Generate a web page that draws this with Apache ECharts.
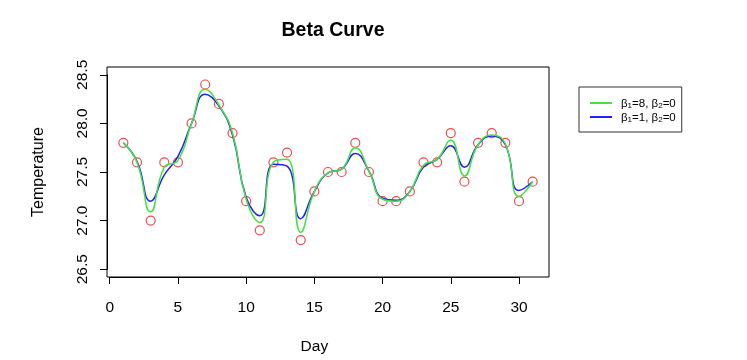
<!DOCTYPE html>
<html>
<head>
<meta charset="utf-8">
<script src="https://cdn.jsdelivr.net/npm/echarts@6/dist/echarts.min.js"></script>
<style>
  html, body { margin: 0; padding: 0; background: #fff; }
  #chart { width: 747px; height: 360px; }
</style>
</head>
<body>
<div id="chart"></div>
<script>
 // 观测数据 (Day 1..31)
 var days = [1,2,3,4,5,6,7,8,9,10,11,12,13,14,15,16,17,18,19,20,21,22,23,24,25,26,27,28,29,30,31];
 var observed = [27.8,27.6,27.0,27.6,27.6,28.0,28.4,28.2,27.9,27.2,26.9,27.6,27.7,26.8,27.3,27.5,
                 27.5,27.8,27.5,27.2,27.2,27.3,27.6,27.6,27.9,27.4,27.8,27.9,27.8,27.2,27.4];
 // 平滑曲线
 var curveB8 = [27.8,27.6,27.09,27.55,27.62,28.0,28.35,28.19,27.9,27.22,26.98,27.6,27.63,26.88,27.3,27.49,
                27.53,27.75,27.51,27.22,27.2,27.3,27.57,27.63,27.83,27.46,27.78,27.88,27.79,27.25,27.4];
 var curveB1 = [27.8,27.61,27.2,27.47,27.66,28.0,28.3,28.18,27.88,27.24,27.05,27.58,27.56,27.02,27.3,27.49,
                27.53,27.69,27.51,27.23,27.21,27.3,27.55,27.63,27.77,27.55,27.78,27.87,27.78,27.31,27.4];
 var seriesNames = ['β1=8, β2=0', 'β1=1, β2=0'];
 var xTicks = {min: 0, max: 30, interval: 5};
 var yTicks = {min: 26.5, max: 28.5, interval: 0.5};

 function pairs(ys) {
    return days.map(function (d, i) { return [d, ys[i]]; });
 }

 var chart = echarts.init(document.getElementById('chart'));
 var font = 'Liberation Sans, Arial, Helvetica, sans-serif';

 var option = {
     animation: false,
     backgroundColor: '#fff',
     title: {
         text: 'Beta Curve',
         left: 328, top: 16,
         textAlign: 'center',
         textStyle: {fontFamily: font, fontSize: 19.5, fontWeight: 'bold', color: '#000'}
     },
     legend: {
         orient: 'vertical',
         left: 579, top: 87,
         padding: [11, 6, 8, 11],
         itemGap: 2,
         itemWidth: 22, itemHeight: 2,
         icon: 'rect',
         borderColor: '#333', borderWidth: 1,
         data: seriesNames,
         formatter: function (name) {
             var m = name.match(/β1=(\d+), β2=(\d+)/);
             return '{n|β}{s|1}{n|=' + m[1] + ', β}{s|2}{n|=' + m[2] + '}';
         },
         textStyle: {
             fontFamily: font, color: '#000', padding: [0, 0, 0, 4],
             rich: {
                 n: {fontFamily: font, fontSize: 11.5, color: '#000', lineHeight: 14, verticalAlign: 'bottom'},
                 s: {fontFamily: font, fontSize: 8, color: '#000', lineHeight: 14, verticalAlign: 'bottom', padding: [4, 0, 0, 0]}
             }
         }
     },
     grid: [
         // 数据区 + 边框
         {left: 107, right: 198, top: 67, bottom: 83, show: true, borderColor: '#000', borderWidth: 1, backgroundColor: 'transparent'},
         // 坐标轴刻度
         {left: 109.7, right: 228, top: 74.8, bottom: 90.8}
     ],
     xAxis: [
         {type: 'value', gridIndex: 0, min: -0.2, max: 32.2, show: false},
         {
             type: 'value', gridIndex: 1, min: xTicks.min, max: xTicks.max, interval: xTicks.interval,
             offset: 7.8,
             name: 'Day', nameLocation: 'middle', nameGap: 62,
             nameTextStyle: {fontFamily: font, fontSize: 15.5, color: '#000'},
             axisLine: {onZero: false, lineStyle: {color: '#000', width: 1}},
             axisTick: {length: 7, lineStyle: {color: '#000'}},
             axisLabel: {fontFamily: font, fontSize: 15.5, color: '#000', margin: 23},
             splitLine: {show: false}
         }
     ],
     yAxis: [
         {type: 'value', gridIndex: 0, min: 26.42, max: 28.58, show: false},
         {
             type: 'value', gridIndex: 1, min: yTicks.min, max: yTicks.max, interval: yTicks.interval,
             offset: 2.7,
             name: 'Temperature', nameLocation: 'middle', nameGap: 60,
             nameTextStyle: {fontFamily: font, fontSize: 16, color: '#000'},
             axisLine: {show: true, onZero: false, lineStyle: {color: '#000', width: 1}},
             axisTick: {show: true, length: 7, lineStyle: {color: '#000'}},
             axisLabel: {
                 fontFamily: font, fontSize: 15.5, color: '#000', margin: 16, rotate: 90,
                 formatter: function (v) { return v.toFixed(1); }
             },
             splitLine: {show: false}
         }
     ],
     series: [
         {
             name: seriesNames[1], type: 'line', xAxisIndex: 0, yAxisIndex: 0,
             data: pairs(curveB1), smooth: 0.5, showSymbol: false,
             color: '#2222ee', lineStyle: {width: 1.5, color: '#2222ee'}
         },
         {
             name: seriesNames[0], type: 'line', xAxisIndex: 0, yAxisIndex: 0,
             data: pairs(curveB8), smooth: 0.5, showSymbol: false,
             color: '#44e044', lineStyle: {width: 1.5, color: '#44e044'}
         },
         {
             name: 'obs', type: 'scatter', xAxisIndex: 0, yAxisIndex: 0,
             data: pairs(observed), symbol: 'circle', symbolSize: 9,
             itemStyle: {color: 'rgba(0,0,0,0)', borderColor: '#e82020', borderWidth: 1.2}
         }
     ]
 };

 chart.setOption(option, true);
 window.addEventListener("resize", function() {
     chart.resize();
 });
</script>
</body>
</html>
